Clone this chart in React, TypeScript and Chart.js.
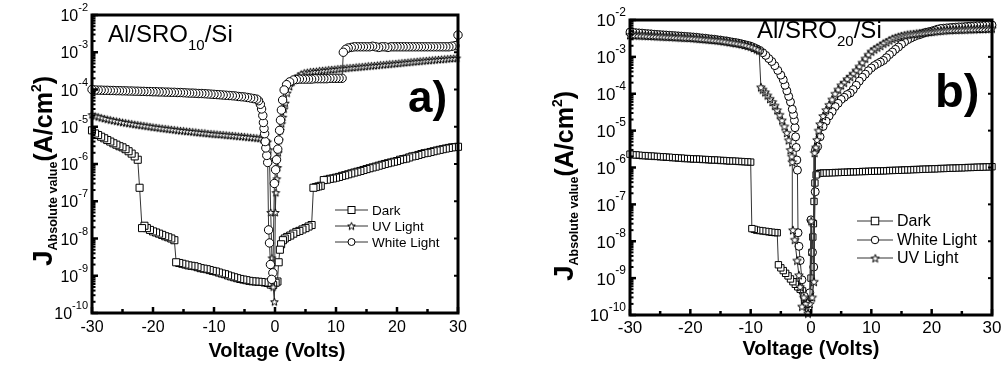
import React, { useEffect, useRef } from "react";
import { Chart, registerables } from "chart.js";
Chart.register(...registerables);

type Pt = [number, number];

// ---------------- Panel a) Al/SRO10/Si ----------------
const DARK_A: Pt[] = [
  [-30, 8e-6], [-29.5, 6.6e-6], [-29, 6e-6], [-28.5, 5.4e-6], [-28, 4.9e-6], [-27.5, 4.4e-6], [-27, 4e-6],
  [-26.5, 3.6e-6], [-26, 3.3e-6], [-25.5, 3e-6], [-25, 2.8e-6], [-24.5, 2.5e-6], [-24, 2.2e-6], [-23.5, 1.9e-6],
  [-23, 1.6e-6], [-22.5, 1.3e-6],
  [-22.2, 2.3e-7],
  [-21.8, 1.9e-8], [-21.4, 2.2e-8], [-21, 1.9e-8], [-20.5, 1.7e-8], [-20, 1.55e-8], [-19.5, 1.45e-8], [-19, 1.35e-8],
  [-18.5, 1.25e-8], [-18, 1.15e-8], [-17.5, 1.08e-8], [-17, 1e-8], [-16.5, 9e-9],
  [-16.2, 2.3e-9], [-15.7, 2.2e-9], [-15.2, 2.1e-9], [-14.7, 2e-9], [-14.2, 1.9e-9], [-13.7, 1.85e-9], [-13.2, 1.8e-9],
  [-12.7, 1.7e-9], [-12.2, 1.6e-9], [-11.7, 1.55e-9], [-11.2, 1.5e-9], [-10.7, 1.42e-9], [-10.2, 1.35e-9], [-9.7, 1.3e-9],
  [-9.2, 1.22e-9], [-8.7, 1.15e-9], [-8.2, 1.1e-9], [-7.7, 1.02e-9], [-7.2, 9.6e-10], [-6.7, 9.1e-10], [-6.2, 8.6e-10],
  [-5.7, 8.2e-10], [-5.2, 7.9e-10], [-4.7, 7.6e-10], [-4.2, 7.3e-10], [-3.7, 7.1e-10], [-3.2, 7e-10], [-2.7, 6.9e-10],
  [-2.2, 6.8e-10], [-1.7, 6.6e-10], [-1.2, 6.4e-10], [-0.7, 5.8e-10], [-0.3, 5.6e-10], [0.1, 6.5e-10], [0.4, 7e-10],
  [0.6, 2.3e-9], [0.8, 5e-9], [1.0, 7e-9], [1.3, 9e-9], [1.6, 1e-8], [2, 1.1e-8], [2.5, 1.2e-8], [3, 1.35e-8],
  [3.5, 1.5e-8], [4, 1.6e-8], [4.5, 1.75e-8], [5, 1.9e-8], [5.5, 2.1e-8], [6, 2.3e-8],
  [6.3, 2.3e-7], [6.7, 2.4e-7], [7.1, 2.5e-7], [7.5, 2.6e-7], [8, 3.7e-7], [8.5, 3.8e-7], [9, 4e-7], [9.5, 4.1e-7],
  [10, 4.3e-7], [10.5, 4.5e-7], [11, 4.8e-7], [11.5, 5e-7], [12, 5.3e-7], [12.5, 5.6e-7], [13, 5.9e-7], [13.5, 6.2e-7],
  [14, 6.5e-7], [14.5, 6.9e-7], [15, 7.3e-7], [15.5, 7.7e-7], [16, 8.1e-7], [16.5, 8.5e-7], [17, 9e-7], [17.5, 9.5e-7],
  [18, 1e-6], [18.5, 1.05e-6], [19, 1.1e-6], [19.5, 1.15e-6], [20, 1.2e-6], [20.5, 1.3e-6], [21, 1.35e-6], [21.5, 1.4e-6],
  [22, 1.5e-6], [22.5, 1.6e-6], [23, 1.65e-6], [23.5, 1.75e-6], [24, 1.85e-6], [24.5, 1.95e-6], [25, 2e-6], [25.5, 2.1e-6],
  [26, 2.2e-6], [26.5, 2.3e-6], [27, 2.4e-6], [27.5, 2.5e-6], [28, 2.6e-6], [28.5, 2.7e-6], [29, 2.8e-6], [29.5, 2.85e-6],
  [30, 2.9e-6],
];

const UV_A: Pt[] = [
  [-30, 2.1e-5], [-29.5, 1.95e-5], [-29, 1.85e-5], [-28.5, 1.75e-5], [-28, 1.67e-5], [-27.5, 1.6e-5], [-27, 1.53e-5],
  [-26.5, 1.47e-5], [-26, 1.42e-5], [-25.5, 1.37e-5], [-25, 1.32e-5], [-24.5, 1.28e-5], [-24, 1.24e-5], [-23.5, 1.2e-5],
  [-23, 1.16e-5], [-22.5, 1.13e-5], [-22, 1.1e-5], [-21.5, 1.07e-5], [-21, 1.04e-5], [-20.5, 1.01e-5], [-20, 9.8e-6],
  [-19.5, 9.6e-6], [-19, 9.3e-6], [-18.5, 9.1e-6], [-18, 8.9e-6], [-17.5, 8.7e-6], [-17, 8.5e-6], [-16.5, 8.3e-6],
  [-16, 8.1e-6], [-15.5, 7.9e-6], [-15, 7.8e-6], [-14.5, 7.6e-6], [-14, 7.5e-6], [-13.5, 7.3e-6], [-13, 7.2e-6],
  [-12.5, 7e-6], [-12, 6.9e-6], [-11.5, 6.8e-6], [-11, 6.6e-6], [-10.5, 6.5e-6], [-10, 6.4e-6], [-9.5, 6.3e-6],
  [-9, 6.2e-6], [-8.5, 6.1e-6], [-8, 6e-6], [-7.5, 5.9e-6], [-7, 5.8e-6], [-6.5, 5.7e-6], [-6, 5.6e-6], [-5.5, 5.5e-6],
  [-5, 5.4e-6], [-4.5, 5.3e-6], [-4, 5.2e-6], [-3.5, 5.1e-6], [-3, 5e-6], [-2.5, 4.9e-6], [-2, 4.6e-6], [-1.5, 4.2e-6],
  [-1.2, 3.9e-6],
  [-1.0, 2.4e-6], [-0.9, 1.3e-6], [-0.7, 5e-8], [-0.5, 3e-9], [-0.3, 5e-10], [-0.1, 2e-10],
  [0.05, 5e-8], [0.15, 1.7e-7], [0.3, 4e-7], [0.45, 8e-7], [0.55, 2e-6], [0.7, 4.4e-6], [0.9, 8e-6], [1.1, 1.2e-5],
  [1.3, 1.8e-5], [1.5, 3e-5], [1.7, 4.3e-5], [2, 8e-5], [2.4, 1.2e-4], [2.8, 1.6e-4], [3.3, 2e-4], [3.8, 2.3e-4],
  [4.3, 2.6e-4], [4.8, 2.8e-4], [5.3, 2.9e-4], [5.8, 3e-4], [6.3, 3.05e-4], [6.8, 3.1e-4], [7.3, 3.2e-4], [7.8, 3.25e-4],
  [8.3, 3.3e-4], [8.8, 3.4e-4], [9.3, 3.45e-4], [9.8, 3.5e-4], [10.3, 3.6e-4], [10.8, 3.65e-4], [11.3, 3.7e-4],
  [11.8, 3.8e-4], [12.3, 3.85e-4], [12.8, 3.9e-4], [13.3, 4e-4], [13.8, 4.05e-4], [14.3, 4.1e-4], [14.8, 4.2e-4],
  [15.3, 4.3e-4], [15.8, 4.35e-4], [16.3, 4.4e-4], [16.8, 4.5e-4], [17.3, 4.6e-4], [17.8, 4.65e-4], [18.3, 4.75e-4],
  [18.8, 4.85e-4], [19.3, 4.9e-4], [19.8, 5e-4], [20.3, 5.1e-4], [20.8, 5.2e-4], [21.3, 5.3e-4], [21.8, 5.4e-4],
  [22.3, 5.5e-4], [22.8, 5.6e-4], [23.3, 5.7e-4], [23.8, 5.8e-4], [24.3, 5.9e-4], [24.8, 6e-4], [25.3, 6.1e-4],
  [25.8, 6.2e-4], [26.3, 6.3e-4], [26.8, 6.4e-4], [27.3, 6.5e-4], [27.8, 6.6e-4], [28.3, 6.7e-4], [28.8, 6.8e-4],
  [29.3, 6.9e-4], [29.8, 7e-4],
];

const WHITE_A: Pt[] = [
  [-30, 1e-4], [-29.5, 9.7e-5], [-29, 9.6e-5], [-28.5, 9.6e-5], [-28, 9.5e-5], [-27.5, 9.5e-5], [-27, 9.4e-5],
  [-26.5, 9.4e-5], [-26, 9.3e-5], [-25.5, 9.3e-5], [-25, 9.2e-5], [-24.5, 9.2e-5], [-24, 9.1e-5], [-23.5, 9.1e-5],
  [-23, 9e-5], [-22.5, 9e-5], [-22, 8.9e-5], [-21.5, 8.9e-5], [-21, 8.8e-5], [-20.5, 8.8e-5], [-20, 8.7e-5],
  [-19.5, 8.7e-5], [-19, 8.6e-5], [-18.5, 8.6e-5], [-18, 8.5e-5], [-17.5, 8.5e-5], [-17, 8.4e-5], [-16.5, 8.4e-5],
  [-16, 8.3e-5], [-15.5, 8.3e-5], [-15, 8.2e-5], [-14.5, 8.1e-5], [-14, 8e-5], [-13.5, 8e-5], [-13, 7.9e-5],
  [-12.5, 7.8e-5], [-12, 7.8e-5], [-11.5, 7.7e-5], [-11, 7.6e-5], [-10.5, 7.5e-5], [-10, 7.4e-5], [-9.5, 7.3e-5],
  [-9, 7.2e-5], [-8.5, 7.1e-5], [-8, 7e-5], [-7.5, 6.9e-5], [-7, 6.8e-5], [-6.5, 6.7e-5], [-6, 6.5e-5], [-5.5, 6.4e-5],
  [-5, 6.3e-5], [-4.5, 6.1e-5], [-4, 5.9e-5], [-3.5, 5.7e-5], [-3, 5.5e-5], [-2.7, 5e-5], [-2.4, 4e-5], [-2.2, 3e-5],
  [-2.0, 2e-5], [-1.9, 1.3e-5], [-1.8, 9e-6], [-1.7, 6.5e-6], [-1.6, 4e-6], [-1.5, 2.7e-6], [-1.35, 1.7e-6],
  [-1.2, 1.1e-6], [-1.05, 1.7e-8], [-0.9, 7.6e-9], [-0.75, 2e-9], [-0.55, 8e-10], [-0.35, 1.2e-9],
  [-0.1, 3e-7], [0.1, 7e-7], [0.25, 1.3e-6], [0.45, 2.5e-6], [0.6, 4.4e-6], [0.75, 8e-6], [0.9, 1.5e-5], [1.05, 2.8e-5],
  [1.25, 5.2e-5], [1.5, 9.7e-5], [1.9, 1.35e-4], [2.4, 1.6e-4], [3, 1.8e-4], [3.5, 1.85e-4], [4, 1.9e-4], [4.5, 1.9e-4],
  [5, 1.9e-4], [5.5, 1.9e-4], [6, 1.9e-4], [6.5, 1.95e-4], [7, 1.95e-4], [7.5, 1.95e-4], [8, 1.95e-4], [8.5, 1.95e-4],
  [9, 2e-4], [9.5, 2e-4], [10, 2e-4], [10.5, 2e-4], [11, 2e-4],
  [11.2, 1e-3], [11.6, 1.2e-3], [12, 1.3e-3], [12.5, 1.35e-3], [13, 1.4e-3], [13.5, 1.4e-3], [14, 1.4e-3], [14.5, 1.4e-3],
  [15, 1.4e-3], [15.5, 1.4e-3], [16, 1.45e-3], [16.5, 1.4e-3], [17, 1.35e-3], [17.5, 1.4e-3], [18, 1.4e-3],
  [18.5, 1.35e-3], [19, 1.4e-3], [19.5, 1.4e-3], [20, 1.4e-3], [20.5, 1.4e-3], [21, 1.4e-3], [21.5, 1.4e-3],
  [22, 1.4e-3], [22.5, 1.4e-3], [23, 1.4e-3], [23.5, 1.4e-3], [24, 1.4e-3], [24.5, 1.4e-3], [25, 1.4e-3],
  [25.5, 1.4e-3], [26, 1.4e-3], [26.5, 1.4e-3], [27, 1.4e-3], [27.5, 1.4e-3], [28, 1.4e-3], [28.5, 1.4e-3],
  [29, 1.45e-3], [29.5, 1.5e-3], [30, 2.9e-3],
];

// ---------------- Panel b) Al/SRO20/Si ----------------
const DARK_B: Pt[] = [
  [-30, 2.3e-6], [-29.5, 2.2e-6], [-29, 2.2e-6], [-28.5, 2.15e-6], [-28, 2.1e-6], [-27.5, 2.1e-6], [-27, 2.05e-6],
  [-26.5, 2.05e-6], [-26, 2e-6], [-25.5, 2e-6], [-25, 1.95e-6], [-24.5, 1.95e-6], [-24, 1.9e-6], [-23.5, 1.9e-6],
  [-23, 1.85e-6], [-22.5, 1.85e-6], [-22, 1.8e-6], [-21.5, 1.8e-6], [-21, 1.75e-6], [-20.5, 1.75e-6], [-20, 1.72e-6],
  [-19.5, 1.7e-6], [-19, 1.7e-6], [-18.5, 1.68e-6], [-18, 1.65e-6], [-17.5, 1.65e-6], [-17, 1.62e-6], [-16.5, 1.6e-6],
  [-16, 1.6e-6], [-15.5, 1.58e-6], [-15, 1.55e-6], [-14.5, 1.55e-6], [-14, 1.52e-6], [-13.5, 1.5e-6], [-13, 1.5e-6],
  [-12.5, 1.48e-6], [-12, 1.46e-6], [-11.5, 1.45e-6], [-11, 1.43e-6], [-10.5, 1.42e-6], [-10, 1.4e-6],
  [-9.8, 2.2e-8], [-9.4, 2.1e-8], [-9, 2e-8], [-8.5, 1.95e-8], [-8, 1.9e-8], [-7.5, 1.85e-8], [-7, 1.8e-8],
  [-6.5, 1.75e-8], [-6, 1.72e-8], [-5.6, 1.7e-8],
  [-5.4, 2.3e-9], [-5, 1.9e-9], [-4.6, 1.6e-9], [-4.2, 1.35e-9], [-3.8, 1.15e-9], [-3.4, 9.5e-10], [-3, 8e-10],
  [-2.6, 6.8e-10], [-2.2, 5.8e-10], [-1.8, 5e-10], [-1.4, 4.5e-10], [-1.0, 3e-10], [-0.7, 2e-10], [-0.4, 1.5e-10],
  [-0.2, 3e-10], [0, 1e-9], [0.15, 5e-9], [0.3, 1.3e-8], [0.4, 3e-8], [0.5, 1.2e-7], [0.65, 3.8e-7], [0.85, 6.3e-7],
  [1.1, 6.8e-7], [1.5, 7e-7], [2, 7.1e-7], [2.5, 7.1e-7], [3, 7.2e-7], [3.5, 7.2e-7], [4, 7.3e-7], [4.5, 7.3e-7],
  [5, 7.4e-7], [5.5, 7.4e-7], [6, 7.5e-7], [6.5, 7.6e-7], [7, 7.6e-7], [7.5, 7.7e-7], [8, 7.7e-7], [8.5, 7.8e-7],
  [9, 7.8e-7], [9.5, 7.9e-7], [10, 7.9e-7], [10.5, 8e-7], [11, 8e-7], [11.5, 8.1e-7], [12, 8.1e-7], [12.5, 8.2e-7],
  [13, 8.3e-7], [13.5, 8.3e-7], [14, 8.4e-7], [14.5, 8.4e-7], [15, 8.5e-7], [15.5, 8.6e-7], [16, 8.6e-7],
  [16.5, 8.7e-7], [17, 8.8e-7], [17.5, 8.8e-7], [18, 8.9e-7], [18.5, 9e-7], [19, 9e-7], [19.5, 9.1e-7], [20, 9.2e-7],
  [20.5, 9.2e-7], [21, 9.3e-7], [21.5, 9.4e-7], [22, 9.4e-7], [22.5, 9.5e-7], [23, 9.6e-7], [23.5, 9.6e-7],
  [24, 9.7e-7], [24.5, 9.8e-7], [25, 9.8e-7], [25.5, 9.9e-7], [26, 1e-6], [26.5, 1e-6], [27, 1.01e-6], [27.5, 1.02e-6],
  [28, 1.02e-6], [28.5, 1.03e-6], [29, 1.04e-6], [29.5, 1.04e-6], [30, 1.05e-6],
];

const WHITE_B: Pt[] = [
  [-30, 4.7e-3], [-29.5, 4.6e-3], [-29, 4.5e-3], [-28.5, 4.45e-3], [-28, 4.4e-3], [-27.5, 4.3e-3], [-27, 4.25e-3],
  [-26.5, 4.2e-3], [-26, 4.1e-3], [-25.5, 4.05e-3], [-25, 4e-3], [-24.5, 3.95e-3], [-24, 3.9e-3], [-23.5, 3.85e-3],
  [-23, 3.8e-3], [-22.5, 3.75e-3], [-22, 3.7e-3], [-21.5, 3.65e-3], [-21, 3.6e-3], [-20.5, 3.55e-3], [-20, 3.5e-3],
  [-19.5, 3.45e-3], [-19, 3.4e-3], [-18.5, 3.3e-3], [-18, 3.25e-3], [-17.5, 3.2e-3], [-17, 3.1e-3], [-16.5, 3.05e-3],
  [-16, 3e-3], [-15.5, 2.9e-3], [-15, 2.85e-3], [-14.5, 2.75e-3], [-14, 2.7e-3], [-13.5, 2.6e-3], [-13, 2.5e-3],
  [-12.5, 2.45e-3], [-12, 2.35e-3], [-11.5, 2.25e-3], [-11, 2.15e-3], [-10.5, 2.05e-3], [-10, 1.95e-3],
  [-9.5, 1.8e-3], [-9, 1.65e-3], [-8.5, 1.5e-3], [-8, 1.3e-3], [-7.5, 1.1e-3], [-7, 9e-4], [-6.5, 7.5e-4],
  [-6, 5.8e-4], [-5.5, 4.3e-4], [-5, 3.2e-4], [-4.6, 2.4e-4], [-4.3, 1.7e-4], [-4, 1.2e-4], [-3.7, 8.5e-5],
  [-3.4, 6e-5], [-3.1, 3.8e-5], [-2.9, 2.7e-5], [-2.75, 1.9e-5], [-2.65, 1.2e-5], [-2.55, 6.8e-6], [-2.45, 3.5e-6],
  [-2.35, 1.6e-6], [-2.25, 8.5e-7],
  [-2.15, 1.7e-8], [-2.0, 7.3e-9], [-1.8, 3e-9], [-1.5, 9e-10], [-1.1, 3.2e-10], [-0.6, 2e-10], [-0.2, 4e-10],
  [0, 3.8e-8], [0.25, 5e-9], [0.45, 2e-9], [0.7, 2.2e-7], [0.75, 3e-6], [1.1, 3.7e-6], [1.5, 6.8e-6], [2, 1.3e-5],
  [2.5, 1.8e-5], [3, 2.5e-5], [3.5, 3.3e-5], [4, 4.5e-5], [4.5, 5.5e-5], [5, 7e-5], [5.5, 8e-5], [6, 9.5e-5],
  [6.5, 1.05e-4], [7, 1.3e-4], [7.5, 1.7e-4], [8, 2.2e-4], [8.5, 2.8e-4], [9, 3.4e-4], [9.5, 4.2e-4], [10, 5e-4],
  [10.5, 5.8e-4], [11, 6.5e-4], [11.5, 7.2e-4], [12, 8e-4], [12.5, 9.5e-4], [13, 1.15e-3], [13.5, 1.35e-3],
  [14, 1.6e-3], [14.5, 1.85e-3], [15, 2.2e-3], [15.5, 2.55e-3], [16, 2.9e-3], [16.5, 3.2e-3], [17, 3.5e-3],
  [17.5, 3.8e-3], [18, 4e-3], [18.5, 4.3e-3], [19, 4.6e-3], [19.5, 4.8e-3], [20, 5e-3], [20.5, 5.3e-3], [21, 5.6e-3],
  [21.5, 5.9e-3], [22, 6e-3], [22.5, 6.1e-3], [23, 6.2e-3], [23.5, 6.3e-3], [24, 6.4e-3], [24.5, 6.5e-3],
  [25, 6.5e-3], [25.5, 6.6e-3], [26, 6.7e-3], [26.5, 6.8e-3], [27, 6.9e-3], [27.5, 7e-3], [28, 7e-3], [28.5, 7.1e-3],
  [29, 7.2e-3], [29.5, 7.3e-3], [30, 7.3e-3],
];

const UV_B: Pt[] = [
  [-30, 3.9e-3], [-29.5, 3.9e-3], [-29, 3.85e-3], [-28.5, 3.8e-3], [-28, 3.8e-3], [-27.5, 3.75e-3], [-27, 3.7e-3],
  [-26.5, 3.7e-3], [-26, 3.65e-3], [-25.5, 3.6e-3], [-25, 3.6e-3], [-24.5, 3.55e-3], [-24, 3.5e-3], [-23.5, 3.5e-3],
  [-23, 3.45e-3], [-22.5, 3.4e-3], [-22, 3.4e-3], [-21.5, 3.35e-3], [-21, 3.3e-3], [-20.5, 3.3e-3], [-20, 3.25e-3],
  [-19.5, 3.2e-3], [-19, 3.15e-3], [-18.5, 3.1e-3], [-18, 3.05e-3], [-17.5, 3e-3], [-17, 2.95e-3], [-16.5, 2.9e-3],
  [-16, 2.85e-3], [-15.5, 2.8e-3], [-15, 2.75e-3], [-14.5, 2.65e-3], [-14, 2.6e-3], [-13.5, 2.5e-3], [-13, 2.45e-3],
  [-12.5, 2.35e-3], [-12, 2.3e-3], [-11.5, 2.2e-3], [-11, 2.1e-3], [-10.5, 2e-3], [-10, 1.9e-3], [-9.5, 1.75e-3],
  [-9, 1.6e-3], [-8.6, 1.5e-3],
  [-8.3, 1.5e-4], [-8, 1.3e-4], [-7.6, 1.1e-4], [-7.2, 9e-5], [-6.8, 7.3e-5], [-6.4, 6e-5], [-6, 4.8e-5],
  [-5.6, 3.6e-5], [-5.2, 2.7e-5], [-4.8, 1.9e-5], [-4.4, 1.3e-5], [-4, 8.7e-6], [-3.7, 5.5e-6], [-3.4, 3e-6],
  [-3.2, 2e-6], [-3.1, 1.4e-6],
  [-3.0, 2e-8], [-2.7, 1.1e-8], [-2.3, 3e-9], [-2, 1.2e-9], [-1.8, 5.8e-10], [-1.5, 1.7e-10], [-1.2, 3e-10],
  [-0.9, 2e-10], [-0.5, 1.1e-10], [-0.2, 2e-10], [0.05, 3.5e-8], [0.2, 3e-10], [0.5, 8e-10],
  [0.6, 2.5e-6], [0.8, 3.5e-6], [1, 5.6e-6], [1.25, 1e-5], [1.5, 1.5e-5], [2, 2.5e-5], [2.5, 3.6e-5], [3, 5e-5],
  [3.5, 7e-5], [4, 1e-4], [4.5, 1.3e-4], [5, 1.7e-4], [5.5, 2e-4], [6, 2.5e-4], [6.5, 2.9e-4], [7, 3.5e-4],
  [7.5, 4.3e-4], [8, 5.5e-4], [8.5, 7e-4], [9, 9e-4], [9.5, 1.15e-3], [10, 1.4e-3], [10.5, 1.6e-3], [11, 1.8e-3],
  [11.5, 2e-3], [12, 2.3e-3], [12.5, 2.5e-3], [13, 2.8e-3], [13.5, 3.1e-3], [14, 3.3e-3], [14.5, 3.5e-3],
  [15, 3.7e-3], [15.5, 3.85e-3], [16, 4e-3], [16.5, 4.1e-3], [17, 4.2e-3], [17.5, 4.3e-3], [18, 4.4e-3],
  [18.5, 4.5e-3], [19, 4.6e-3], [19.5, 4.7e-3], [20, 4.8e-3], [20.5, 4.9e-3], [21, 5e-3], [21.5, 5.1e-3],
  [22, 5.2e-3], [22.5, 5.3e-3], [23, 5.3e-3], [23.5, 5.4e-3], [24, 5.4e-3], [24.5, 5.5e-3], [25, 5.5e-3],
  [25.5, 5.5e-3], [26, 5.6e-3], [26.5, 5.6e-3], [27, 5.6e-3], [27.5, 5.7e-3], [28, 5.7e-3], [28.5, 5.7e-3],
  [29, 5.8e-3], [29.5, 5.8e-3], [30, 5.9e-3],
];

// ---------------- Axes / labels ----------------
const X_MAJOR = [-30, -20, -10, 0, 10, 20, 30];
const X_MINOR = [-25, -15, -5, 5, 15, 25];
const Y_EXP = [-2, -3, -4, -5, -6, -7, -8, -9, -10];
const LOG_MINOR = [2, 3, 4, 5, 6, 7, 8, 9];
const X_TITLE = "Voltage (Volts)";
const LEGEND_A = ["Dark", "UV Light", "White Light"];
const LEGEND_B = ["Dark", "White Light", "UV Light"];

const FONT = '"Liberation Sans", Arial, Helvetica, sans-serif';

type Marker = "rect" | "circle" | "star";

function makeStar(size: number): HTMLCanvasElement {
  const s = size + 3;
  const c = document.createElement("canvas");
  c.width = s;
  c.height = s;
  const ctx = c.getContext("2d")!;
  const cx = s / 2, cy = s / 2 + 0.4, R = size / 2, r = R * 0.42;
  ctx.beginPath();
  for (let i = 0; i < 10; i++) {
    const a = -Math.PI / 2 + (i * Math.PI) / 5;
    const rr = i % 2 === 0 ? R : r;
    ctx.lineTo(cx + rr * Math.cos(a), cy + rr * Math.sin(a));
  }
  ctx.closePath();
  ctx.fillStyle = "#fff";
  ctx.fill();
  ctx.strokeStyle = "#000";
  ctx.lineWidth = 1;
  ctx.stroke();
  return c;
}

interface Seg { t: string; size: number; dy: number; bold: boolean }

function drawSegs(ctx: CanvasRenderingContext2D, segs: Seg[], x0: number, y0: number, center: boolean) {
  let total = 0;
  for (const s of segs) {
    ctx.font = `${s.bold ? "bold " : ""}${s.size}px ${FONT}`;
    total += ctx.measureText(s.t).width;
  }
  let x = center ? x0 - total / 2 : x0;
  ctx.textAlign = "left";
  ctx.textBaseline = "alphabetic";
  for (const s of segs) {
    ctx.font = `${s.bold ? "bold " : ""}${s.size}px ${FONT}`;
    ctx.fillText(s.t, x, y0 + s.dy);
    x += ctx.measureText(s.t).width;
  }
}

interface SeriesDef { data: Pt[]; marker: Marker; radius: number; starSize?: number }

interface PanelDef {
  left: number;
  width: number;
  area: { left: number; top: number; right: number; bottom: number };
  series: SeriesDef[];
  tickFont: number;
  yLabelRight: number;
  xLabelY: number;
  xTitleX: number;
  xTitleY: number;
  yTitleX: number;
  yTitleY: number;
  sample: { x: number; y: number; sub: string };
  letter: { t: string; x: number; y: number; size: number };
  legend: { labels: string[]; markers: Marker[]; x1: number; x2: number; tx: number; ys: number[]; font: number; msize: number };
}

const PANEL_A: PanelDef = {
  left: 0,
  width: 480,
  area: { left: 92, top: 15, right: 458, bottom: 313 },
  series: [
    { data: WHITE_A, marker: "circle", radius: 4.2 },
    { data: UV_A, marker: "star", radius: 3, starSize: 8 },
    { data: DARK_A, marker: "rect", radius: 5 },
  ],
  tickFont: 16,
  yLabelRight: 88,
  xLabelY: 328,
  xTitleX: 277,
  xTitleY: 357,
  yTitleX: 52,
  yTitleY: 171,
  sample: { x: 108, y: 42, sub: "10" },
  letter: { t: "a)", x: 408, y: 112, size: 44 },
  legend: { labels: LEGEND_A, markers: ["rect", "star", "circle"], x1: 335, x2: 368, tx: 372, ys: [210, 226, 242], font: 13.5, msize: 7 },
};

const PANEL_B: PanelDef = {
  left: 500,
  width: 502,
  area: { left: 130, top: 20, right: 492, bottom: 315 },
  series: [
    { data: UV_B, marker: "star", radius: 3, starSize: 9 },
    { data: WHITE_B, marker: "circle", radius: 4 },
    { data: DARK_B, marker: "rect", radius: 4.5 },
  ],
  tickFont: 17,
  yLabelRight: 126,
  xLabelY: 328,
  xTitleX: 311,
  xTitleY: 355,
  yTitleX: 73,
  yTitleY: 186,
  sample: { x: 257, y: 38, sub: "20" },
  letter: { t: "b)", x: 435, y: 107, size: 47 },
  legend: { labels: LEGEND_B, markers: ["rect", "circle", "star"], x1: 357, x2: 393, tx: 397, ys: [221, 240, 258], font: 16, msize: 7.5 },
};

function drawLegendMarker(ctx: CanvasRenderingContext2D, m: Marker, x: number, y: number, size: number, star: HTMLCanvasElement) {
  ctx.save();
  ctx.fillStyle = "#fff";
  ctx.strokeStyle = "#000";
  ctx.lineWidth = 1;
  if (m === "rect") {
    ctx.fillRect(x - size / 2, y - size / 2, size, size);
    ctx.strokeRect(x - size / 2, y - size / 2, size, size);
  } else if (m === "circle") {
    ctx.beginPath();
    ctx.arc(x, y, size / 2, 0, Math.PI * 2);
    ctx.fill();
    ctx.stroke();
  } else {
    ctx.drawImage(star, x - star.width / 2, y - star.height / 2);
  }
  ctx.restore();
}

function PanelChart({ def }: { def: PanelDef }) {
  const ref = useRef<HTMLCanvasElement | null>(null);
  useEffect(() => {
    const canvas = ref.current!;
    const H = 371;
    canvas.width = def.width;
    canvas.height = H;
    const stars: Record<string, HTMLCanvasElement> = {};
    const starFor = (n: number) => (stars[n] = stars[n] || makeStar(n));
    const legendStar = makeStar(def.legend.msize + 1);

    const decor = {
      id: "decor" + def.left,
      afterDraw(chart: any) {
        const ctx: CanvasRenderingContext2D = chart.ctx;
        const xs = chart.scales.x;
        const ys = chart.scales.y;
        const { left, top, right, bottom } = chart.chartArea;
        ctx.save();
        ctx.fillStyle = "#000";
        ctx.strokeStyle = "#000";
        ctx.lineCap = "butt";
        const vline = (x: number, y1: number, y2: number, w: number) => {
          ctx.lineWidth = w;
          ctx.beginPath();
          ctx.moveTo(x, y1);
          ctx.lineTo(x, y2);
          ctx.stroke();
        };
        const hline = (y: number, x1: number, x2: number, w: number) => {
          ctx.lineWidth = w;
          ctx.beginPath();
          ctx.moveTo(x1, y);
          ctx.lineTo(x2, y);
          ctx.stroke();
        };
        for (const v of X_MAJOR) {
          const px = xs.getPixelForValue(v);
          vline(px, bottom, bottom - 6, 2.5);
        }
        for (const v of X_MINOR) {
          const px = xs.getPixelForValue(v);
          vline(px, bottom, bottom - 4, 2.5);
        }
        for (const e of Y_EXP) {
          const py = ys.getPixelForValue(Math.pow(10, e));
          hline(py, left, left + 6, 2.5);
          hline(py, right, right - 4, 2);
          if (e > -2.5) continue;
          for (const m of LOG_MINOR) {
            const pm = ys.getPixelForValue(m * Math.pow(10, e));
            hline(pm, left, left + 3.5, 2);
          }
        }
        // frame
        ctx.lineWidth = 3;
        ctx.strokeRect(left, top, right - left, bottom - top);

        // x tick labels
        ctx.font = `${def.tickFont}px ${FONT}`;
        ctx.textAlign = "center";
        ctx.textBaseline = "middle";
        for (const v of X_MAJOR) {
          ctx.fillText(String(v), xs.getPixelForValue(v), def.xLabelY);
        }
        // y tick labels 10^e
        const sup = Math.round(def.tickFont * 0.68);
        for (const e of Y_EXP) {
          const py = ys.getPixelForValue(Math.pow(10, e));
          ctx.font = `${sup}px ${FONT}`;
          const wE = ctx.measureText(String(e)).width;
          ctx.font = `${def.tickFont}px ${FONT}`;
          const wB = ctx.measureText("10").width;
          ctx.textAlign = "left";
          ctx.textBaseline = "alphabetic";
          const xb = def.yLabelRight - wE - wB;
          ctx.fillText("10", xb, py + def.tickFont * 0.38);
          ctx.font = `${sup}px ${FONT}`;
          ctx.fillText(String(e), xb + wB, py - def.tickFont * 0.25);
        }
        // x title
        ctx.font = `bold 20px ${FONT}`;
        ctx.textAlign = "center";
        ctx.textBaseline = "alphabetic";
        ctx.fillText(X_TITLE, def.xTitleX, def.xTitleY);

        // y title (rotated)
        ctx.save();
        ctx.translate(def.yTitleX, def.yTitleY);
        ctx.rotate(-Math.PI / 2);
        drawSegs(
          ctx,
          [
            { t: "J", size: 28, dy: 0, bold: true },
            { t: "Absolute value", size: 12.5, dy: 5, bold: true },
            { t: "(A/cm", size: 25, dy: 0, bold: true },
            { t: "2", size: 14, dy: -11, bold: true },
            { t: ")", size: 25, dy: 0, bold: true },
          ],
          0,
          0,
          true
        );
        ctx.restore();

        // sample name
        drawSegs(
          ctx,
          [
            { t: "Al/SRO", size: 24, dy: 0, bold: false },
            { t: def.sample.sub, size: 15, dy: 8, bold: false },
            { t: "/Si", size: 24, dy: 0, bold: false },
          ],
          def.sample.x,
          def.sample.y,
          false
        );

        // panel letter
        ctx.font = `bold ${def.letter.size}px ${FONT}`;
        ctx.textAlign = "left";
        ctx.textBaseline = "alphabetic";
        ctx.fillText(def.letter.t, def.letter.x, def.letter.y);

        // legend
        const lg = def.legend;
        lg.labels.forEach((lab, i) => {
          const y = lg.ys[i];
          ctx.strokeStyle = "#333";
          hline(y, lg.x1, lg.x2, 1);
          drawLegendMarker(ctx, lg.markers[i], (lg.x1 + lg.x2) / 2, y, lg.msize, legendStar);
          ctx.fillStyle = "#000";
          ctx.font = `${lg.font}px ${FONT}`;
          ctx.textAlign = "left";
          ctx.textBaseline = "middle";
          ctx.fillText(lab, lg.tx, y + 1);
        });
        ctx.restore();
      },
    };

    const chart = new Chart(canvas, {
      type: "line",
      data: {
        datasets: def.series.map((s) => ({
          data: [...s.data].reverse().map(([x, y]) => ({ x, y })),
          borderColor: "#333",
          borderWidth: 1,
          pointStyle: s.marker === "star" ? starFor(s.starSize || 8) : s.marker,
          pointRadius: s.radius,
          pointBackgroundColor: "#fff",
          pointBorderColor: "#000",
          pointBorderWidth: 1,
          tension: 0,
          fill: false,
          clip: false as any,
        })) as any,
      },
      options: {
        responsive: false,
        animation: false,
        devicePixelRatio: 1,
        events: [],
        layout: {
          padding: {
            left: def.area.left,
            top: def.area.top,
            right: def.width - def.area.right,
            bottom: H - def.area.bottom,
          },
        },
        plugins: { legend: { display: false }, tooltip: { enabled: false } },
        scales: {
          x: { type: "linear", min: -30, max: 30, display: false },
          y: { type: "logarithmic", min: 1e-10, max: 1e-2, display: false },
        },
      } as any,
      plugins: [decor],
    });
    return () => chart.destroy();
  }, [def]);
  return (
    <canvas
      ref={ref}
      style={{ position: "absolute", left: def.left, top: 0, width: def.width, height: 371 }}
    />
  );
}

export default function App() {
  return (
    <div style={{ position: "absolute", left: 0, top: 0, width: 1002, height: 371, background: "#fff" }}>
      <PanelChart def={PANEL_A} />
      <PanelChart def={PANEL_B} />
    </div>
  );
}
